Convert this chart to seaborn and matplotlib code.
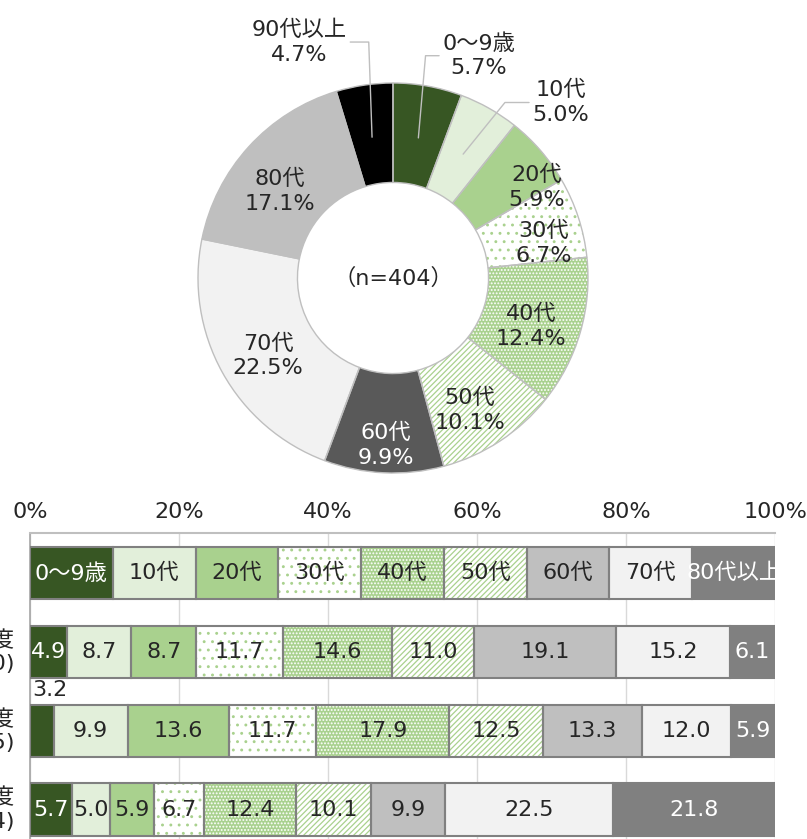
import numpy as np
import matplotlib.pyplot as plt
import seaborn as sns

# donut data (n=404)
pie_labels = ["0～9歳", "10代", "20代", "30代", "40代", "50代", "60代", "70代", "80代", "90代以上"]
pie_values = [5.7, 5.0, 5.9, 6.7, 12.4, 10.1, 9.9, 22.5, 17.1, 4.7]
pie_n = 404

# stacked bar data
bar_groups = ["0～9歳", "10代", "20代", "30代", "40代", "50代", "60代", "70代", "80代以上"]
row_labels = ["【年齢別】", "令和3年度\n(n=410)", "令和4年度\n(n=375)", "令和5年度\n(n=404)"]
row_a = [4.9, 8.7, 8.7, 11.7, 14.6, 11.0, 19.1, 15.2, 6.1]
row_b = [3.2, 9.9, 13.6, 11.7, 17.9, 12.5, 13.3, 12.0, 5.9]
row_c = [5.7, 5.0, 5.9, 6.7, 12.4, 10.1, 9.9, 22.5, 21.8]
x_ticks = [0, 20, 40, 60, 80, 100]

sns.set_theme(style="white")
plt.rcParams['font.family'] = ['DejaVu Sans', 'Noto Sans CJK JP']
plt.rcParams['hatch.linewidth'] = 0.9

G_DARK = "#375623"
G_LIGHT = "#e2efda"
G_MID = "#a9d18e"
EDGE = "#808080"
TXT = "#262626"

# (face, hatch, hatch colour, text colour)
pie_styles = [
    (G_DARK, None, None, TXT),
    (G_LIGHT, None, None, TXT),
    (G_MID, None, None, TXT),
    ("white", "..", G_MID, TXT),
    (G_MID, ".....", "white", TXT),
    ("white", "//////", G_MID, TXT),
    ("#595959", None, None, "white"),
    ("#f2f2f2", None, None, TXT),
    ("#bfbfbf", None, None, TXT),
    ("black", None, None, TXT),
]
bar_styles = [
    (G_DARK, None, None, "white"),
    (G_LIGHT, None, None, TXT),
    (G_MID, None, None, TXT),
    ("white", "..", G_MID, TXT),
    (G_MID, ".....", "white", TXT),
    ("white", "//////", G_MID, TXT),
    ("#bfbfbf", None, None, TXT),
    ("#f2f2f2", None, None, TXT),
    ("#808080", None, None, "white"),
]

fig = plt.figure(figsize=(8.07, 8.39), dpi=100)

# ---------------- donut ----------------
R = 195.0
cx, cy = 393.0, 278.0
half = 1.3 * R
ax1 = fig.add_axes([(cx - half) / 807, 1 - (cy + half) / 839, 2 * half / 807, 2 * half / 839])
wedges, _ = ax1.pie(pie_values, startangle=90, counterclock=False, radius=1,
                    wedgeprops=dict(width=0.51, linewidth=0))
for w, (face, hatch, hcol, _) in zip(wedges, pie_styles):
    w.set_facecolor(face)
    if hatch:
        w.set_hatch(hatch)
        w.set_edgecolor(hcol)
# outlines
ax1.pie(pie_values, startangle=90, counterclock=False, radius=1,
        wedgeprops=dict(width=0.51, fill=False, edgecolor="#bfbfbf", linewidth=1))
ax1.set_xlim(-1.3, 1.3)
ax1.set_ylim(-1.3, 1.3)
ax1.set_aspect('equal')
ax1.axis('off')

# label radius and clockwise angle shift (deg) for labels inside the ring
inner_pos = [None, None, (0.89, 7), (0.80, 3), (0.74, 1), (0.76, 2), (0.83, 0),
             (0.74, -1), (0.75, -3), None]
outer_pos = {0: (0.44, 1.14, 0, 85), 1: (0.86, 0.90, 0, 51), 9: (-0.48, 1.21, 1, 92)}
for i, w in enumerate(wedges):
    mid_deg = (w.theta1 + w.theta2) / 2
    txt = f"{pie_labels[i]}\n{pie_values[i]:.1f}%"
    col = pie_styles[i][3]
    if inner_pos[i] is not None:
        r, shift = inner_pos[i]
        a = np.deg2rad(mid_deg - shift)
        ax1.text(r * np.cos(a), r * np.sin(a) - 0.03, txt, ha='center', va='center',
                 fontsize=16, color=col, linespacing=1.3)
    else:
        mid = np.deg2rad(mid_deg)
        tx, ty, side, angB = outer_pos[i]
        ax1.annotate(txt, xy=(0.73 * np.cos(mid), 0.73 * np.sin(mid)), xytext=(tx, ty),
                     ha='center', va='center', fontsize=16, color=TXT, linespacing=1.3,
                     arrowprops=dict(arrowstyle='-', color='#bfbfbf', lw=1, shrinkA=0, shrinkB=0,
                                     relpos=(side, 0.5),
                                     connectionstyle=f"angle,angleA=0,angleB={angB},rad=0"))
ax1.text(0, 0, f"（n={pie_n}）", ha='center', va='center', fontsize=16, color=TXT)

# ---------------- stacked bars ----------------
ax2 = fig.add_axes([30 / 807, 1 - 849 / 839, 745 / 807, 316 / 839])
rows = [[100 / len(bar_groups)] * len(bar_groups), row_a, row_b, row_c]
h = 0.667
for y, vals in enumerate(rows):
    left = 0.0
    for j, v in enumerate(vals):
        face, hatch, hcol, tcol = bar_styles[j]
        ax2.barh(y, v, left=left, height=h, color=face, hatch=hatch,
                 edgecolor=hcol if hatch else face, linewidth=0, zorder=2)
        ax2.barh(y, v, left=left, height=h, fill=False, edgecolor=EDGE, linewidth=1.5, zorder=3)
        label = bar_groups[j] if y == 0 else f"{v:.1f}"
        if y > 0 and v < 4:
            ax2.text(left + 0.3, y - 0.52, label, ha='left', va='center', fontsize=16, color=TXT)
        else:
            ax2.text(left + v / 2, y, label, ha='center', va='center', fontsize=16,
                     color=tcol, zorder=4, clip_on=True)
        left += v
    ax2.text(-2.1, y, row_labels[y], ha='right', va='center', fontsize=16,
             color=TXT, multialignment='right', clip_on=False)

ax2.set_xlim(0, 100)
ax2.set_ylim(3.5, -0.51)
ax2.xaxis.tick_top()
ax2.set_xticks(x_ticks)
ax2.set_xticklabels([f"{t}%" for t in x_ticks], fontsize=16, color=TXT)
ax2.tick_params(axis='x', length=0, pad=8)
ax2.set_yticks([])
ax2.grid(axis='x', color='#d9d9d9', linewidth=1)
ax2.set_axisbelow(True)
for s in ['right', 'bottom']:
    ax2.spines[s].set_visible(False)
ax2.spines['top'].set_color('#bfbfbf')
ax2.spines['top'].set_linewidth(1.5)
ax2.spines['left'].set_color('#a6a6a6')
ax2.spines['left'].set_linewidth(1.2)

fig.savefig("out.png", dpi=100)
